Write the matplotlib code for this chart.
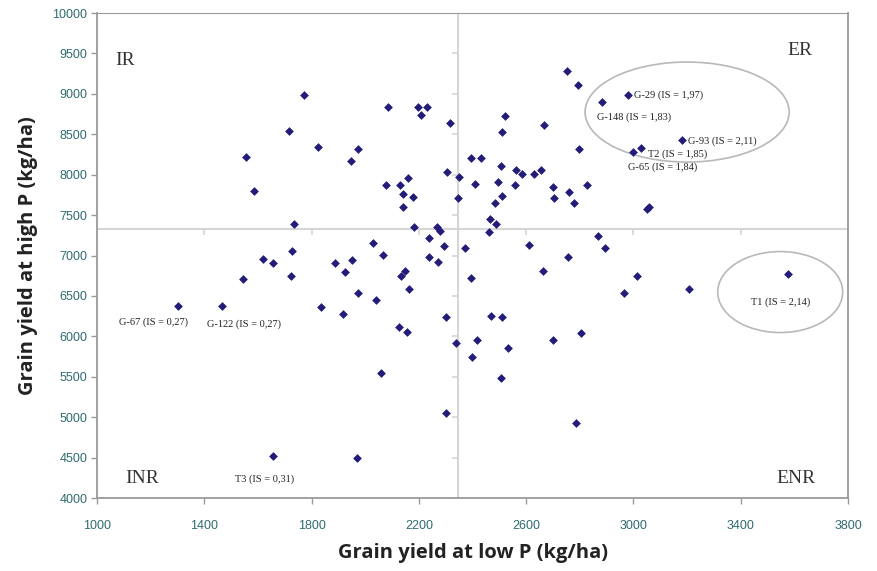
import numpy as np
import matplotlib.pyplot as plt
from matplotlib.patches import Ellipse

# grain yield at low P (x) and high P (y), kg/ha
low_p = [1772, 1716, 1824, 1556, 1973, 1947, 1585, 1734, 2078, 2130, 2160, 2141,
         2178, 2141, 2182, 2268, 2279, 2085, 2197, 2230, 2208, 2316, 2305,
         2350, 2346, 2521, 2510, 2667, 2394, 2432, 2506, 2562, 2585, 2629, 2655,
         2409, 2495, 2559, 2510, 2484, 2465, 2488, 2700, 2704, 2760, 2779, 2797,
         2827, 2752, 2793, 2980, 2883, 3181, 3028, 2999, 3058, 3051,
         1302, 1466, 1544, 1619, 1656, 1727, 1723, 1835, 1887, 1917, 1925, 1951,
         1973, 2040, 2029, 2066, 2126, 2156, 2133, 2148, 2163, 2238, 2294, 2238,
         2271, 2301, 2339, 2059, 1656, 1969, 2301,
         2372, 2394, 2462, 2469, 2510, 2417, 2398, 2532, 2506, 2611, 2663, 2700,
         2756, 2805, 2786, 2868, 2894, 2965, 3013, 3207, 3577]
high_p = [8985, 8540, 8342, 8218, 8318, 8169, 7798, 7390, 7872, 7872, 7959, 7761,
          7724, 7600, 7353, 7353, 7303, 8837, 8837, 8837, 8738, 8639, 8033,
          7971, 7711, 8726, 8528, 8614, 8206, 8206, 8107, 8058, 8008, 8008, 8058,
          7884, 7909, 7872, 7736, 7649, 7452, 7390, 7847, 7711, 7786, 7649, 8318,
          7872, 9282, 9109, 8985, 8899, 8429, 8330, 8280, 7600, 7575,
          6375, 6375, 6709, 6957, 6907, 7056, 6746, 6363, 6907, 6276, 6796, 6944,
          6536, 6449, 7155, 7006, 6115, 6054, 6746, 6808, 6586, 7216, 7117, 6981,
          6920, 6239, 5918, 5546, 4520, 4495, 5052,
          7093, 6722, 7291, 6252, 6239, 5955, 5744, 5856, 5484, 7130, 6808, 5955,
          6981, 6041, 4928, 7241, 7093, 6536, 6746, 6586, 6771]

# mean lines splitting the four groups
x_split = 2345
y_split = 7330

quadrants = ['IR', 'ER', 'INR', 'ENR']
quad_x = [1067, 3666, 1104, 3677]
quad_y = [9418, 9542, 4247, 4247]
quad_ha = ['left', 'right', 'left', 'right']

labels = ['G-29 (IS = 1,97)', 'G-148 (IS = 1,83)', 'G-93 (IS = 2,11)',
          'T2 (IS = 1,85)', 'G-65 (IS = 1,84)', 'G-67 (IS = 0,27)',
          'G-122 (IS = 0,27)', 'T3 (IS = 0,31)', 'T1 (IS = 2,14)']
label_x = [3002, 2864, 3204, 3054, 2980, 1082, 1410, 1515, 3550]
label_y = [8985, 8713, 8416, 8256, 8095, 6177, 6153, 4235, 6425]
label_ha = ['left'] * 8 + ['center']

xticks = [1000, 1400, 1800, 2200, 2600, 3000, 3400, 3800]
yticks = [4000, 4500, 5000, 5500, 6000, 6500, 7000, 7500, 8000, 8500, 9000, 9500, 10000]

fig = plt.figure(figsize=(8.77, 5.71), dpi=100)
ax = fig.add_axes([0.1106, 0.1278, 0.8564, 0.8494])

ax.set_xlim(1000, 3800)
ax.set_ylim(4000, 10000)

# split lines with their little tick marks
line_col = '#d6d6d6'
ax.axvline(x_split, color=line_col, lw=1.5, zorder=1)
ax.axhline(y_split, color=line_col, lw=1.5, zorder=1)
ax.plot([x_split] * len(yticks), yticks, ls='none', marker=0, ms=4,
        mew=1.2, color=line_col, zorder=1)
ax.plot(xticks, [y_split] * len(xticks), ls='none', marker=3, ms=4,
        mew=1.2, color=line_col, zorder=1)

ax.scatter(low_p, high_p, marker='D', s=20, color='#231c78', zorder=3,
           linewidths=0)

# highlight ellipses
ax.add_patch(Ellipse((3200, 8775), 761, 1237, fill=False, ec='#b8b8b8', lw=1.2))
ax.add_patch(Ellipse((3547, 6548), 466, 1002, fill=False, ec='#b8b8b8', lw=1.2))

serif = ['Liberation Serif', 'DejaVu Serif']
for q, qx, qy, ha in zip(quadrants, quad_x, quad_y, quad_ha):
    ax.text(qx, qy, q, ha=ha, va='center', fontsize=14, family=serif,
            color='#333333')
for t, tx, ty, ha in zip(labels, label_x, label_y, label_ha):
    ax.text(tx, ty, t, ha=ha, va='center', fontsize=7.5, family=serif,
            color='#222222')

ax.set_xticks(xticks)
ax.set_yticks(yticks)
ax.tick_params(direction='out', length=4, width=1, color='#9a9a9a',
               labelsize=9, labelcolor='#2f6b70')
ax.tick_params(axis='x', pad=12)
ax.tick_params(axis='y', pad=3)
for lbl in ax.get_xticklabels() + ax.get_yticklabels():
    lbl.set_family(['Liberation Sans', 'DejaVu Sans'])
for s in ax.spines.values():
    s.set_color('#9a9a9a')
    s.set_linewidth(1.3)
ax.spines['top'].set_linewidth(0.8)

lab_font = ['Open Sans', 'DejaVu Sans']
ax.set_xlabel('Grain yield at low P (kg/ha)', fontsize=14.5, fontweight='bold',
              family=lab_font, color='#222222', labelpad=8)
ax.set_ylabel('Grain yield at high P (kg/ha)', fontsize=14.5, fontweight='bold',
              family=lab_font, color='#222222', labelpad=10)

fig.savefig('out.png', dpi=100)
